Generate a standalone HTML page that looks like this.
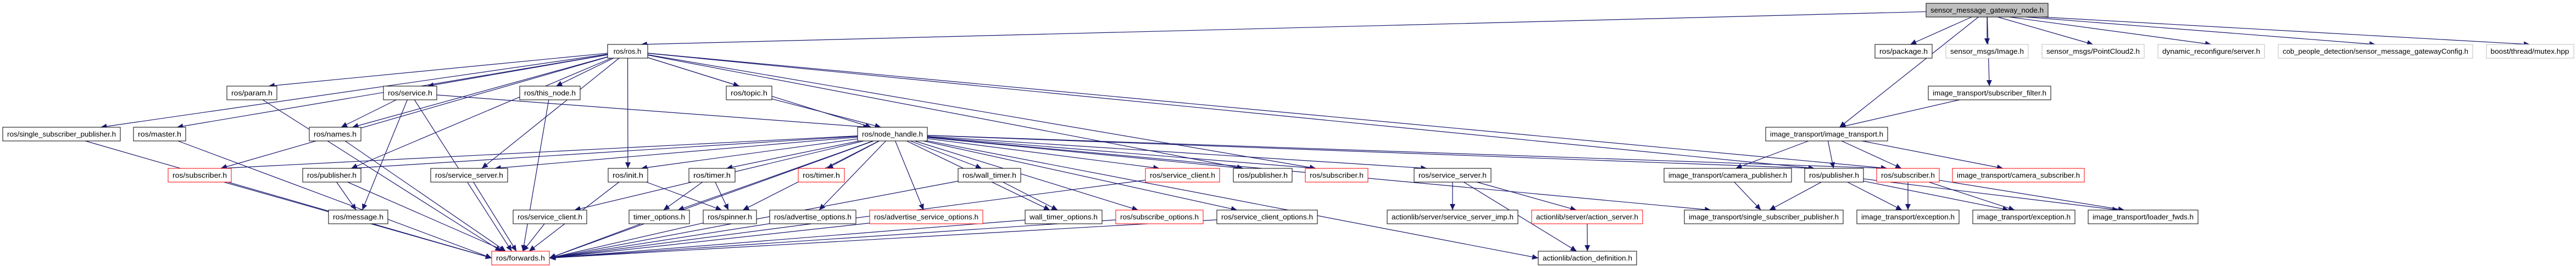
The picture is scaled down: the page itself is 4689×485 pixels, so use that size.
<!DOCTYPE html>
<html><head><meta charset="utf-8">
<style>
html,body{margin:0;padding:0;background:#fff;}
svg{display:block;}
text{font-family:"Liberation Sans",sans-serif;font-size:13px;}
</style></head>
<body>
<svg id="g" width="4689" height="485" viewBox="0 0 4689 485" xmlns="http://www.w3.org/2000/svg">
<defs>
<marker id="a" markerUnits="userSpaceOnUse" markerWidth="12" markerHeight="10" refX="11" refY="5" orient="auto">
<polygon points="0,0 11,5 0,10" fill="#191970"/>
</marker>
</defs>
<g id="edges" fill="none" stroke="#191970" stroke-width="1.2"></g>
<g id="nodes">
<rect x="3506" y="6" width="222" height="25" fill="#bfbfbf" stroke="#000"/><text x="3617" y="23" text-anchor="middle" textLength="206" lengthAdjust="spacingAndGlyphs">sensor_message_gateway_node.h</text>
<rect x="1106" y="81" width="73" height="25" fill="#fff" stroke="#000"/><text x="1142" y="98" text-anchor="middle">ros/ros.h</text>
<rect x="3413" y="81" width="104" height="25" fill="#fff" stroke="#000"/><text x="3465" y="98" text-anchor="middle" textLength="88" lengthAdjust="spacingAndGlyphs">ros/package.h</text>
<rect x="3542" y="81" width="150" height="25" fill="#fff" stroke="#bfbfbf"/><text x="3617" y="98" text-anchor="middle" textLength="134" lengthAdjust="spacingAndGlyphs">sensor_msgs/Image.h</text>
<rect x="3717" y="81" width="186" height="25" fill="#fff" stroke="#bfbfbf"/><text x="3810" y="98" text-anchor="middle" textLength="170" lengthAdjust="spacingAndGlyphs">sensor_msgs/PointCloud2.h</text>
<rect x="3928" y="81" width="194" height="25" fill="#fff" stroke="#bfbfbf"/><text x="4025" y="98" text-anchor="middle" textLength="178" lengthAdjust="spacingAndGlyphs">dynamic_reconfigure/server.h</text>
<rect x="4147" y="81" width="354" height="25" fill="#fff" stroke="#bfbfbf"/><text x="4324" y="98" text-anchor="middle" textLength="338" lengthAdjust="spacingAndGlyphs">cob_people_detection/sensor_message_gatewayConfig.h</text>
<rect x="4526" y="81" width="159" height="25" fill="#fff" stroke="#bfbfbf"/><text x="4605" y="98" text-anchor="middle" textLength="143" lengthAdjust="spacingAndGlyphs">boost/thread/mutex.hpp</text>
</g>
</svg>
<script>
var N={
sensor:[3506,3728,0],rosh:[1106,1179,1],package:[3413,3517,1],
param:[413,504,2],service:[698,795,2],thisnode:[946,1056,2],topic:[1322,1405,2],subfilter:[3510,3733,2],
ssp:[5,219,3],master:[243,338,3],names:[563,657,3],nh:[1561,1688,3],ith:[3214,3436,3],
sub1:[306,421,4],pub1:[551,657,4],ss1:[784,924,4],init:[1107,1179,4],timer:[1254,1338,4],timerR:[1453,1537,4],wall:[1744,1858,4],scR:[2085,2220,4],pub2:[2245,2352,4],sub2:[2376,2490,4],ss2:[2574,2714,4],campub:[3029,3261,4],pub3:[3285,3392,4],sub3:[3416,3530,4],camsub:[3554,3794,4],
msg:[598,706,5],sclient:[934,1068,5],topt:[1145,1255,5],spinner:[1280,1377,5],adv:[1401,1558,5],advsvc:[1583,1789,5],wto:[1866,2006,5],subopt:[2031,2190,5],sco:[2215,2398,5],ssi:[2525,2763,5],as:[2788,2990,5],sspub:[3066,3355,5],exc:[3380,3566,5],exc2:[3591,3777,5],loader:[3801,4001,5],
fwd:[895,1000,6],actdef:[2800,2979,6]};
var L={param:["ros/param.h"],service:["ros/service.h"],thisnode:["ros/this_node.h"],topic:["ros/topic.h"],subfilter:["image_transport/subscriber_filter.h"],ssp:["ros/single_subscriber_publisher.h"],master:["ros/master.h"],names:["ros/names.h"],nh:["ros/node_handle.h"],ith:["image_transport/image_transport.h"],sub1:["ros/subscriber.h",1],pub1:["ros/publisher.h"],ss1:["ros/service_server.h"],init:["ros/init.h"],timer:["ros/timer.h"],timerR:["ros/timer.h",1],wall:["ros/wall_timer.h"],scR:["ros/service_client.h",1],pub2:["ros/publisher.h"],sub2:["ros/subscriber.h",1],ss2:["ros/service_server.h"],campub:["image_transport/camera_publisher.h"],pub3:["ros/publisher.h"],sub3:["ros/subscriber.h",1],camsub:["image_transport/camera_subscriber.h",1],msg:["ros/message.h"],sclient:["ros/service_client.h"],topt:["timer_options.h"],spinner:["ros/spinner.h"],adv:["ros/advertise_options.h"],advsvc:["ros/advertise_service_options.h",1],wto:["wall_timer_options.h"],subopt:["ros/subscribe_options.h",1],sco:["ros/service_client_options.h"],ssi:["actionlib/server/service_server_imp.h"],as:["actionlib/server/action_server.h",1],sspub:["image_transport/single_subscriber_publisher.h"],exc:["image_transport/exception.h"],exc2:["image_transport/exception.h"],loader:["image_transport/loader_fwds.h"],fwd:["ros/forwards.h",1],actdef:["actionlib/action_definition.h"]};
var RY=[6,81,157,232,307,383,458],H=25;
var ns="http://www.w3.org/2000/svg",G=document.getElementById("nodes"),E=document.getElementById("edges");
for(var k in L){var n=N[k],y=RY[n[2]];
var r=document.createElementNS(ns,"rect");r.setAttribute("x",n[0]);r.setAttribute("y",y);r.setAttribute("width",n[1]-n[0]);r.setAttribute("height",H);r.setAttribute("fill","#fff");r.setAttribute("stroke",L[k][1]?"#ff0000":"#000");G.appendChild(r);
var t=document.createElementNS(ns,"text");t.setAttribute("x",(n[0]+n[1])/2);t.setAttribute("y",y+17);t.setAttribute("text-anchor","middle");t.setAttribute("textLength",n[1]-n[0]-16);t.setAttribute("lengthAdjust","spacingAndGlyphs");t.textContent=L[k][0];G.appendChild(t);}
function edge(a,b){var s=N[a],t=N[b];if(!s||!t)return;
var sy=RY[s[2]]+H/2,scx=(s[0]+s[1])/2,tcx=(t[0]+t[1])/2,ty=RY[t[2]];
var tw=t[1]-t[0];var dx0=tcx-scx;
var tx=tcx-Math.max(-tw/3,Math.min(tw/3,dx0*0.08));
var tyy=ty;
if((b=="fwd"||b=="actdef")&&Math.abs(dx0)>3*(ty-sy)){tx=dx0>0?t[0]:t[1];tyy=ty+H/2;}
var dx=tx-scx,dy=tyy-sy;var hw=(s[1]-s[0])/2,hh=H/2;
var f=Math.min(dx?hw/Math.abs(dx):1e9,dy?hh/Math.abs(dy):1e9);
var x1=scx+dx*f,y1=sy+dy*f;
var p=document.createElementNS(ns,"path");p.setAttribute("d","M"+x1+","+y1+" L"+tx+","+tyy);p.setAttribute("marker-end","url(#a)");E.appendChild(p);}
var S={sensor:["rosh","package","subfilter","ith"],subfilter:["ith"],ith:["campub","pub3","sub3","camsub"],campub:["sspub"],pub3:["sspub","exc","exc2","loader"],sub3:["exc","exc2","loader"],
rosh:["ssp","master","sub1","param","service","names","pub1","ss1","thisnode","init","topic","nh","pub2","sub2","pub3","sub3"],
service:["names","msg","fwd","nh"],topic:["nh"],names:["fwd"],param:["fwd"],thisnode:["fwd"],ssp:["fwd"],master:["fwd"],sub1:["fwd"],pub1:["msg","fwd"],ss1:["fwd"],init:["fwd","spinner"],sclient:["fwd"],topt:["fwd"],timer:["topt","spinner"],spinner:["fwd"],adv:["fwd"],advsvc:["fwd"],wto:["fwd"],subopt:["fwd"],sco:["fwd"],wall:["wto","fwd"],scR:["fwd"],
nh:["sub1","pub1","ss1","init","sclient","timer","timerR","wall","spinner","topt","adv","advsvc","wto","subopt","sco","scR","pub2","sub2","fwd","ss2","pub3","sub3","sspub","actdef"],
ss2:["ssi","as","actdef"],as:["actdef"]};
for(var a in S){S[a].forEach(function(b){try{edge(a,b);}catch(e){}});}
[3617,3810,4025,4324,4605].forEach(function(q){var p=document.createElementNS(ns,"path");var x1=3617+Math.max(-100,Math.min(100,(q-3617)*0.1));p.setAttribute("d","M"+x1+",31 L"+q+",81");p.setAttribute("marker-end","url(#a)");E.appendChild(p);});
</script>
</body></html>
